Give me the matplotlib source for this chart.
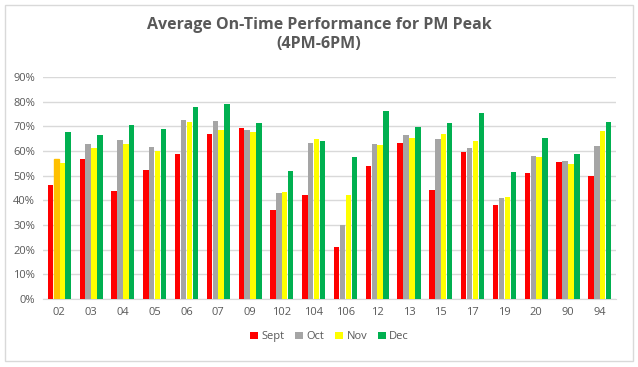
import matplotlib
matplotlib.use("Agg")
import matplotlib.pyplot as plt
from matplotlib.patches import Rectangle, Patch
from matplotlib.ticker import FuncFormatter
import numpy as np

plt.rcParams['font.family'] = ['Open Sans', 'DejaVu Sans']

routes = ["02", "03", "04", "05", "06", "07", "09", "102", "104", "106",
          "12", "13", "15", "17", "19", "20", "90", "94"]
sept = [46.1, 56.7, 44.0, 52.2, 58.7, 66.8, 69.3, 36.3, 42.4, 21.2,
        53.8, 63.2, 44.4, 59.5, 38.3, 51.0, 55.4, 49.9]
octo = [56.7, 62.8, 64.4, 61.5, 72.6, 72.1, 68.5, 43.2, 63.2, 30.2,
        62.8, 66.4, 64.8, 61.1, 40.8, 57.9, 55.8, 62.0]
nov = [55.3, 61.4, 62.9, 59.9, 71.9, 68.5, 67.7, 43.3, 64.8, 42.0,
       62.4, 65.2, 66.8, 64.0, 41.2, 57.5, 54.6, 68.1]
dec = [67.7, 66.4, 70.5, 68.9, 77.9, 79.1, 71.3, 51.8, 64.0, 57.5,
       76.2, 69.7, 71.3, 75.4, 51.4, 65.2, 58.7, 71.7]
months = ["Sept", "Oct", "Nov", "Dec"]
colors = ["#FF0000", "#A5A5A5", "#FFFF00", "#00B050"]

fig = plt.figure(figsize=(6.38, 3.67), dpi=100)
fig.patches.append(Rectangle((0.008, 0.016), 0.984, 0.97, transform=fig.transFigure,
                             fill=False, edgecolor="#D9D9D9", linewidth=1))
ax = fig.add_axes([0.068, 0.185, 0.897, 0.605])

x = np.arange(len(routes))
w = 0.17
step = 0.185
series = [sept, octo, nov, dec]
for i, (vals, c) in enumerate(zip(series, colors)):
    bars = ax.bar(x + (i - 1.5) * step, vals, width=w, color=c, zorder=3)
    if i == 1:
        bars[0].set_color("#FFC000")  # highlighted point in the original

ax.set_xlim(-0.5, len(routes) - 0.5)
ax.set_ylim(0, 90)
ax.set_yticks(np.arange(0, 91, 10))
ax.yaxis.set_major_formatter(FuncFormatter(lambda v, p: f"{int(v)}%"))
ax.set_xticks(x)
ax.set_xticklabels(routes)
ax.grid(axis="y", color="#D9D9D9", linewidth=1, zorder=0)
for s in ["top", "right", "left"]:
    ax.spines[s].set_visible(False)
ax.spines["bottom"].set_color("#D9D9D9")
ax.tick_params(axis="both", length=0, labelsize=8, colors="#595959", pad=6)

fig.suptitle("Average On-Time Performance for PM Peak\n(4PM-6PM)", y=0.955,
             fontsize=11.5, fontweight="bold", color="#595959", linespacing=1.3)

handles = [Patch(facecolor=c, label=m) for c, m in zip(colors, months)]
leg = ax.legend(handles=handles, loc="upper center", bbox_to_anchor=(0.5, -0.1), ncol=4,
                frameon=False, fontsize=8, handlelength=0.7, handleheight=0.7,
                handletextpad=0.3, columnspacing=1.0)
for t in leg.get_texts():
    t.set_color("#595959")

fig.savefig("out.png", dpi=100)
